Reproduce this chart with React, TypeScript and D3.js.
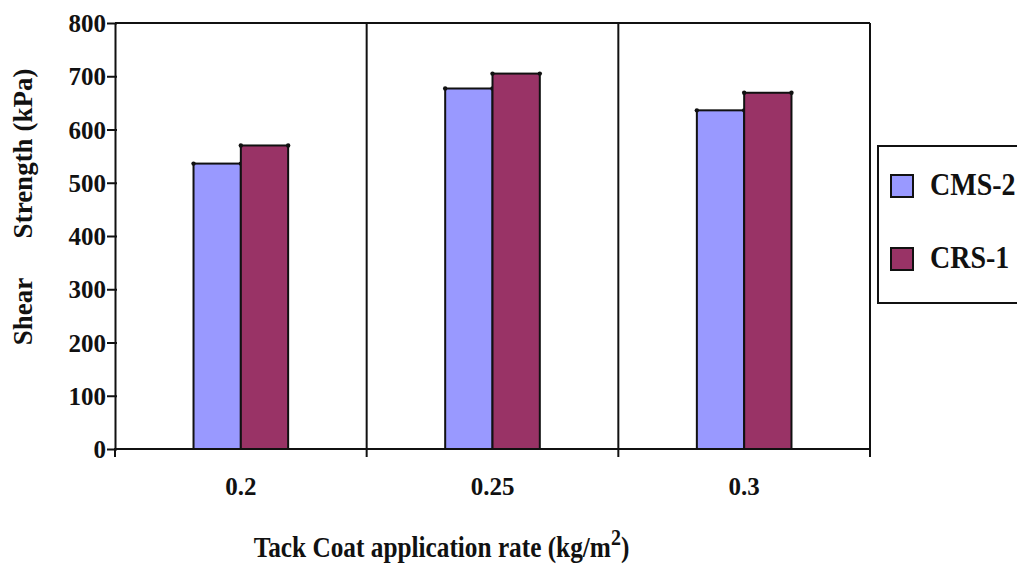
import React, { useEffect, useRef } from "react";
import * as d3 from "d3";

const categories = ["0.2", "0.25", "0.3"];
const seriesNames = ["CMS-2", "CRS-1"];
const cms2Values = [536, 677, 636];
const crs1Values = [570, 705, 669];
const yTicks = [0, 100, 200, 300, 400, 500, 600, 700, 800];
const seriesColors = ["#9999FF", "#993366"];

const W = 1017;
const H = 567;
const FONT = "Liberation Serif";

export default function App() {
  const ref = useRef<SVGSVGElement | null>(null);

  useEffect(() => {
    const svg = d3.select(ref.current);
    svg.selectAll("*").remove();

    const left = 115, right = 870, top = 23, bottom = 449;
    const x0 = d3.scaleBand<string>().domain(categories).range([left, right]).padding(0);
    const y = d3.scaleLinear().domain([0, 800]).range([bottom, top]);
    const groupHalf = x0.bandwidth() * 0.188;
    const values = [cms2Values, crs1Values];

    const g = svg.append("g");

    categories.forEach((c, ci) => {
      const center = (x0(c) as number) + x0.bandwidth() / 2;
      const x1 = d3.scaleBand<string>().domain(seriesNames).range([center - groupHalf, center + groupHalf]).padding(0);
      seriesNames.forEach((s, si) => {
        const v = values[si][ci];
        const bx = x1(s) as number;
        g.append("rect")
          .attr("x", bx)
          .attr("y", y(v))
          .attr("width", x1.bandwidth())
          .attr("height", y(0) - y(v))
          .attr("fill", seriesColors[si])
          .attr("stroke", "#111")
          .attr("stroke-width", 2);
        [bx, bx + x1.bandwidth()].forEach((cx) => {
          g.append("circle").attr("cx", cx).attr("cy", y(v)).attr("r", 2.2).attr("fill", "#111");
        });
      });
    });

    g.append("line").attr("x1", left).attr("x2", right).attr("y1", top).attr("y2", top)
      .attr("stroke", "#111").attr("stroke-width", 2);
    const bounds = categories.map((c) => x0(c) as number).concat([right]);
    bounds.slice(1).forEach((bx) => {
      g.append("line").attr("x1", bx).attr("x2", bx).attr("y1", top).attr("y2", bottom + 8)
        .attr("stroke", "#111").attr("stroke-width", 2);
    });
    g.append("line").attr("x1", left).attr("x2", left).attr("y1", bottom).attr("y2", bottom + 8)
      .attr("stroke", "#111").attr("stroke-width", 2);

    g.append("line").attr("x1", left - 1).attr("x2", right + 1).attr("y1", bottom).attr("y2", bottom)
      .attr("stroke", "#111").attr("stroke-width", 2);

    const yAxis = d3.axisLeft(y).tickValues(yTicks).tickSize(8).tickPadding(1).tickSizeOuter(0);
    const ya = g.append("g").attr("transform", `translate(${left},0)`).call(yAxis);
    ya.attr("font-family", FONT).attr("font-size", 25);
    ya.select(".domain").attr("stroke", "#111").attr("stroke-width", 2);
    ya.selectAll(".tick line").attr("stroke", "#111").attr("stroke-width", 2).attr("x2", -8).attr("x1", 2);
    ya.selectAll(".tick text")
      .style("font-family", FONT).attr("font-weight", "bold").attr("font-size", 25)
      .attr("fill", "#111").attr("dy", "0.34em");

    categories.forEach((c) => {
      g.append("text")
        .attr("x", (x0(c) as number) + x0.bandwidth() / 2)
        .attr("y", 495)
        .attr("text-anchor", "middle")
        .style("font-family", FONT).attr("font-weight", "bold").attr("font-size", 25)
        .attr("fill", "#111")
        .text(c);
    });

    const xt = g.append("text")
      .attr("transform", "translate(441.5,557) scale(1,1.17)")
      .attr("x", 0).attr("y", 0)
      .attr("text-anchor", "middle")
      .style("font-family", FONT).attr("font-weight", "bold").attr("font-size", 25.3)
      .attr("fill", "#111");
    xt.append("tspan").text("Tack Coat application rate (kg/m");
    xt.append("tspan").attr("dy", -10).attr("font-size", 20).text("2");
    xt.append("tspan").attr("dy", 10).text(")");

    [["Strength (kPa)", 153.5], ["Shear", 311.5]].forEach(([t, cy]) => {
      g.append("text")
        .attr("transform", `translate(23,${cy}) rotate(-90)`)
        .attr("text-anchor", "middle")
        .attr("dominant-baseline", "central")
        .style("font-family", FONT).attr("font-weight", "bold").attr("font-size", 27)
        .attr("fill", "#111")
        .text(t as string);
    });

    g.append("rect").attr("x", 878).attr("y", 146).attr("width", 160).attr("height", 157)
      .attr("fill", "#fff").attr("stroke", "#111").attr("stroke-width", 2);
    seriesNames.forEach((s, i) => {
      const ly = 175 + i * 73;
      g.append("text")
        .attr("transform", `translate(930,${ly + 20}) scale(1,1.1)`)
        .style("font-family", FONT).attr("font-weight", "bold").attr("font-size", 28)
        .attr("fill", "#111")
        .text(s);
      g.append("rect").attr("x", 891).attr("y", ly).attr("width", 22).attr("height", 22)
        .attr("fill", seriesColors[i]).attr("stroke", "#111").attr("stroke-width", 2);
    });
  }, []);

  return (
    <svg
      ref={ref}
      width={W}
      height={H}
      style={{ position: "absolute", left: 0, top: 0, background: "#fff" }}
    />
  );
}
